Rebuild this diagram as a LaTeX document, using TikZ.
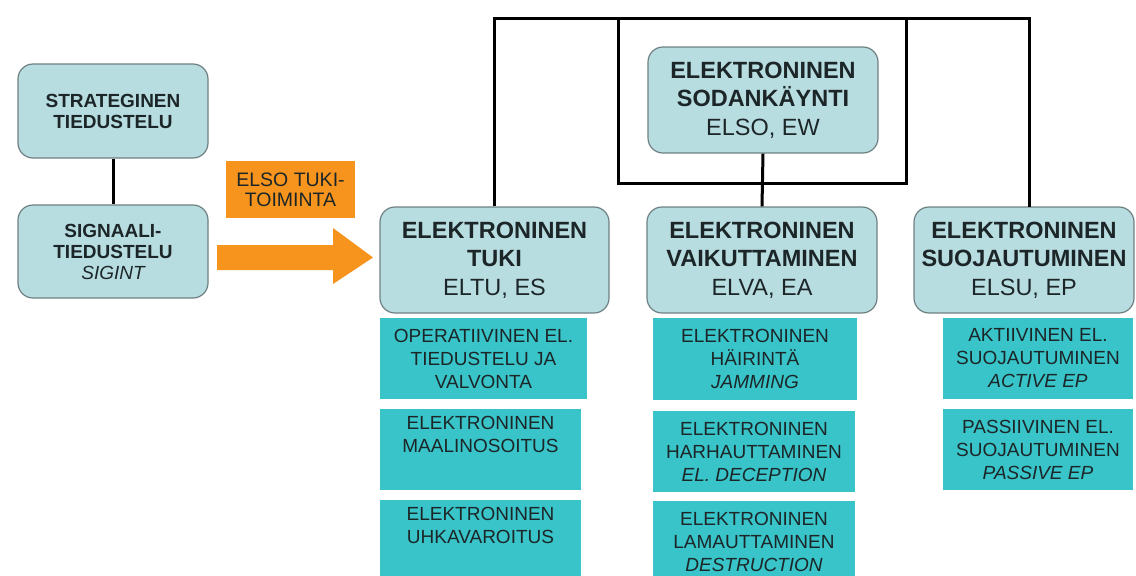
\documentclass[tikz,border=0pt]{standalone}
\usepackage{fontspec}
\setmainfont{Liberation Sans}
\definecolor{boxfill}{HTML}{B8DDE1}
\definecolor{boxline}{HTML}{6F8082}
\definecolor{subfill}{HTML}{38C4C8}
\definecolor{orng}{HTML}{F7941D}
\definecolor{txt}{HTML}{1C2628}
\tikzset{
  mainbox/.style={draw=boxline, line width=1.2pt, fill=boxfill, rounded corners=15pt,
    align=center, text=txt, inner sep=0pt,
    font=\fontsize{23.5}{28.5}\selectfont},
  leftbox/.style={draw=boxline, line width=1.2pt, fill=boxfill, rounded corners=15pt,
    align=center, text=txt, inner sep=0pt, minimum width=190pt,
    font=\fontsize{19}{21}\selectfont},
  subbox/.style={fill=subfill, align=center, text=txt, inner sep=0pt,
    minimum height=81pt, font=\fontsize{19}{23}\selectfont},
  conn/.style={line width=3pt, black},
}
\begin{document}
\begin{tikzpicture}[x=1pt,y=-1pt]
\useasboundingbox (0,0) rectangle (1136,576);
\clip (0,0) rectangle (1136,576);
\fill[white] (0,0) rectangle (1136,576);

% left boxes
\node[leftbox, minimum height=94pt] (strat) at (113,111) {\bfseries STRATEGINEN\\\bfseries TIEDUSTELU};
\node[leftbox, minimum height=93pt] (sig) at (113,251.5) {\bfseries SIGNAALI-\\\bfseries TIEDUSTELU\\\itshape SIGINT};
\draw[conn] (strat.south) -- (sig.north);

% orange label and arrow
\node[fill=orng, minimum width=129pt, minimum height=57pt, inner sep=0pt, align=center,
  text=txt, font=\fontsize{19.5}{20}\selectfont] (lbl) at (290.5,189.5) {\raisebox{-3pt}{\parbox{129pt}{\centering ELSO TUKI-\\TOIMINTA}}};
\coordinate (arrs) at (217,257.5);
\fill[orng] (arrs) ++(0,-12.5) -- ++(116,0) -- ++(0,-17) -- (373,257.5) -- (333,284) -- ++(0,-14) -- (217,270) -- cycle;

% main boxes
\node[mainbox, minimum width=230pt, minimum height=106pt] (sod) at (763,100) {\bfseries ELEKTRONINEN\\\bfseries SODANKÄYNTI\\ELSO, EW};
\node[mainbox, minimum width=229pt, minimum height=106pt] (tuki) at (494.5,260) {\bfseries ELEKTRONINEN\\\bfseries TUKI\\ELTU, ES};
\node[mainbox, minimum width=230pt, minimum height=106pt] (vaik) at (762,260) {\bfseries ELEKTRONINEN\\\bfseries VAIKUTTAMINEN\\ELVA, EA};
\node[mainbox, minimum width=220pt, minimum height=106pt] (suoj) at (1024,260) {\bfseries ELEKTRONINEN\\\bfseries SUOJAUTUMINEN\\ELSU, EP};

% connectors
\coordinate (topl) at (494.5,18);
\coordinate (topr) at (1029,18);
\coordinate (sujn) at (1029,207);
\draw[conn] (tuki.north) -- (topl) -- (topr) -- (sujn);
\coordinate (f1) at (618,18);
\coordinate (f2) at (906,183);
\draw[conn] (f1) rectangle (f2);
\draw[conn] (sod.south) -- (vaik.north);

% sub boxes
\node[subbox, minimum width=207pt] (t1) at (483.5,358.5) {OPERATIIVINEN EL.\\TIEDUSTELU JA\\VALVONTA};
\node[subbox, minimum width=201pt] (t2) at (480.5,449.5) {ELEKTRONINEN\\MAALINOSOITUS\\\strut};
\node[subbox, minimum width=201pt] (t3) at (480.5,540.5) {ELEKTRONINEN\\UHKAVAROITUS\\\strut};

\node[subbox, minimum width=204pt, minimum height=82pt] (v1) at (755,359) {ELEKTRONINEN\\HÄIRINTÄ\\\itshape JAMMING};
\node[subbox, minimum width=202pt] (v2) at (754,451.5) {ELEKTRONINEN\\HARHAUTTAMINEN\\\itshape EL. DECEPTION};
\node[subbox, minimum width=202pt] (v3) at (754,541.5) {ELEKTRONINEN\\LAMAUTTAMINEN\\\itshape DESTRUCTION};

\node[subbox, minimum width=190pt] (s1) at (1038,358.5) {AKTIIVINEN EL.\\SUOJAUTUMINEN\\\itshape ACTIVE EP};
\node[subbox, minimum width=190pt] (s2) at (1038,449.5) {PASSIIVINEN EL.\\SUOJAUTUMINEN\\\itshape PASSIVE EP};
\end{tikzpicture}
\end{document}
